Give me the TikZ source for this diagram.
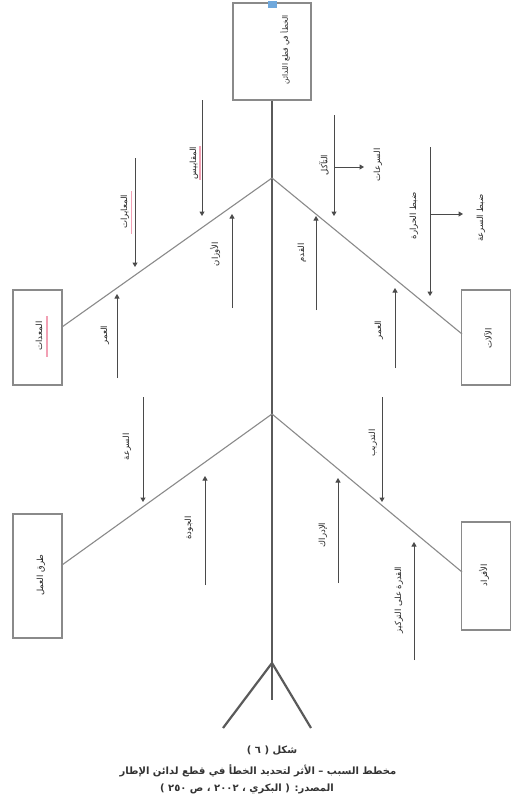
\documentclass[tikz,border=0pt]{standalone}
\usepackage{fontspec}
\newfontfamily\arabicfont[Script=Arabic]{DejaVu Sans}
\TeXXeTstate=1
\usetikzlibrary{arrows.meta}
\definecolor{linegray}{HTML}{8A8A8A}
\definecolor{spinegray}{HTML}{5A5A5A}
\definecolor{arrgray}{HTML}{4A4A4A}
\definecolor{marker}{HTML}{6FA8DC}
\definecolor{spellpink}{HTML}{F2A0B4}
\begin{document}
\begin{tikzpicture}[x=1pt,y=-1pt,
  box/.style={draw=linegray,line width=1.1pt,rectangle,inner sep=0pt},
  branch/.style={draw=linegray,line width=1.1pt},
  spine/.style={draw=spinegray,line width=2.2pt},
  arr/.style={draw=arrgray,line width=1pt,-{Triangle[width=5pt,length=4.5pt]}},
  lbl/.style={rotate=90,inner sep=0pt,font=\arabicfont\fontsize{8.5}{10}\selectfont,text=black!85},
  headlbl/.style={lbl,font=\arabicfont\fontsize{7.5}{9}\selectfont},
  captxt/.style={inner sep=0pt,font=\arabicfont\fontsize{10}{12}\selectfont\bfseries,text=black!80},
  spellmark/.style={draw=spellpink,line width=1.6pt}]
\useasboundingbox (0,0) rectangle (512,806);
\fill[white] (0,0) rectangle (512,806);

% boxes
\node[box,minimum width=78pt,minimum height=97pt] (head) at (272,51.5) {};
\node[fill=marker,inner sep=0pt,minimum width=9pt,minimum height=7pt] (mk) at (272.5,4) {};
\node[box,minimum width=49pt,minimum height=95pt] (bLT) at (37.5,337.5) {};
\node[box,minimum width=49pt,minimum height=95pt] (bRT) at (486,337.5) {};
\node[box,minimum width=49pt,minimum height=124pt] (bLB) at (37.5,576) {};
\node[box,minimum width=49pt,minimum height=108pt] (bRB) at (486,576) {};

% box labels
\node[headlbl] (tHead) at (285,50) {\beginR الخطأ في قطع اللدائن\endR};
\node[lbl] (tLT) at (39,336) {\beginR المعدات\endR};
\node[lbl] (tRT) at (488,338) {\beginR الآلات\endR};
\node[lbl] (tLB) at (41,575) {\beginR طرق العمل\endR};
\node[lbl] (tRB) at (484,575) {\beginR الأفراد\endR};

% spine and tail
\coordinate (j1) at (272,178);
\coordinate (j2) at (272,414);
\coordinate (sp) at (272,663);
\coordinate (se) at (272,700);
\coordinate (legL) at (223,728);
\coordinate (legR) at (311,728);
\draw[spine] (head.south) -- (se);
\draw[spine] (sp) -- (legL);
\draw[spine] (sp) -- (legR);

% branches
\coordinate (eLT) at (62,327);
\coordinate (eRT) at (462,334);
\coordinate (eLB) at (62,565);
\coordinate (eRB) at (462,572);
\draw[branch] (j1) -- (eLT);
\draw[branch] (j1) -- (eRT);
\draw[branch] (j2) -- (eLB);
\draw[branch] (j2) -- (eRB);

% ---- upper left arrows
\coordinate (a1s) at (135,158); \coordinate (a1e) at (135,267);
\coordinate (a2s) at (202,100); \coordinate (a2e) at (202,216);
\coordinate (a3s) at (117,378); \coordinate (a3e) at (117,294);
\coordinate (a4s) at (232,308); \coordinate (a4e) at (232,214);
\draw[arr] (a1s) -- (a1e);
\draw[arr] (a2s) -- (a2e);
\draw[arr] (a3s) -- (a3e);
\draw[arr] (a4s) -- (a4e);
\draw[spellmark] (131.5,191) -- (131.5,234);
\draw[spellmark] (200,146) -- (200,180);
\draw[spellmark] (47,316) -- (47,357);
\node[lbl] (l1) at (125,212) {\beginR المعايرات\endR};
\node[lbl] (l2) at (194,163) {\beginR المقاييس\endR};
\node[lbl] (l3) at (105,335) {\beginR العمر\endR};
\node[lbl] (l4) at (215,254) {\beginR الأوزان\endR};

% ---- upper right arrows
\coordinate (b1s) at (334,115); \coordinate (b1e) at (334,216);
\coordinate (b1m) at (334,167); \coordinate (b1r) at (364,167);
\coordinate (b2s) at (430,147); \coordinate (b2e) at (430,296);
\coordinate (b2m) at (430,214); \coordinate (b2r) at (463,214);
\coordinate (b3s) at (316,310); \coordinate (b3e) at (316,216);
\coordinate (b4s) at (395,368); \coordinate (b4e) at (395,288);
\draw[arr] (b1s) -- (b1e);
\draw[arr] (b1m) -- (b1r);
\draw[arr] (b2s) -- (b2e);
\draw[arr] (b2m) -- (b2r);
\draw[arr] (b3s) -- (b3e);
\draw[arr] (b4s) -- (b4e);
\node[lbl] (m1) at (324,165) {\beginR التآكل\endR};
\node[lbl] (m1r) at (378,165) {\beginR السرعات\endR};
\node[lbl] (m2) at (414,216) {\beginR ضبط الحرارة\endR};
\node[lbl] (m2r) at (481,218) {\beginR ضبط السرعة\endR};
\node[lbl] (m3) at (302,253) {\beginR القدم\endR};
\node[lbl] (m4) at (379,330) {\beginR العمر\endR};

% ---- lower left arrows
\coordinate (c1s) at (143,397); \coordinate (c1e) at (143,502);
\coordinate (c2s) at (205,585); \coordinate (c2e) at (205,476);
\draw[arr] (c1s) -- (c1e);
\draw[arr] (c2s) -- (c2e);
\node[lbl] (n1) at (127,447) {\beginR السرعة\endR};
\node[lbl] (n2) at (189,528) {\beginR الجودة\endR};

% ---- lower right arrows
\coordinate (d1s) at (382,397); \coordinate (d1e) at (382,502);
\coordinate (d2s) at (338,583); \coordinate (d2e) at (338,478);
\coordinate (d3s) at (414,660); \coordinate (d3e) at (414,542);
\draw[arr] (d1s) -- (d1e);
\draw[arr] (d2s) -- (d2e);
\draw[arr] (d3s) -- (d3e);
\node[lbl] (p1) at (373,443) {\beginR التدريب\endR};
\node[lbl] (p2) at (323,535) {\beginR الإدراك\endR};
\node[lbl] (p3) at (399,600) {\beginR القدرة على التركيز\endR};

% caption
\node[captxt] (c1) at (272,751) {\beginR شكل ( ٦ )\endR};
\node[captxt] (c2) at (258,771) {\beginR مخطط السبب – الأثر لتحديد الخطأ في قطع لدائن الإطار\endR};
\node[captxt] (c3) at (247,789) {\beginR المصدر: ( البكري ، ٢٠٠٢ ، ص ٢٥٠ )\endR};
\end{tikzpicture}
\end{document}
